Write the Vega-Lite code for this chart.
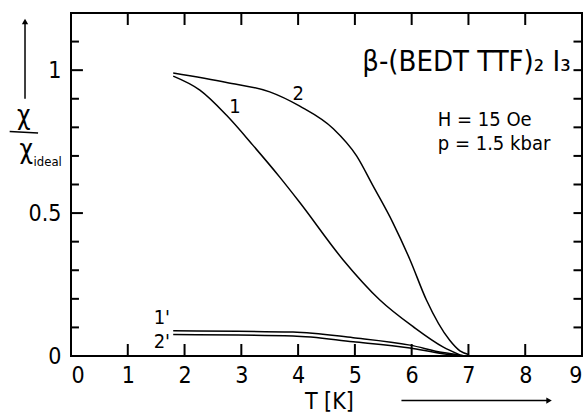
{
  "$schema": "https://vega.github.io/schema/vega-lite/v6.json",
  "autosize": "none",
  "width": 511,
  "height": 343,
  "padding": {"left": 71, "top": 13, "right": 2, "bottom": 57},
  "background": "white",
  "config": {
    "view": {"stroke": "black", "strokeWidth": 2},
    "font": "DejaVu Sans Condensed",
    "text": {"font": "DejaVu Sans Condensed"},
    "axis": {"grid": false, "ticks": false, "domain": false, "labelColor": "black", "labelFont": "DejaVu Sans Condensed", "titleFont": "DejaVu Sans Condensed"}
  },
  "datasets": {
    "curves": [
      {"s": "1", "T": 1.8, "r": 0.979},
      {"s": "1", "T": 2.27, "r": 0.93},
      {"s": "1", "T": 2.74, "r": 0.842},
      {"s": "1", "T": 3.21, "r": 0.736},
      {"s": "1", "T": 3.68, "r": 0.625},
      {"s": "1", "T": 4.03, "r": 0.537},
      {"s": "1", "T": 4.79, "r": 0.337},
      {"s": "1", "T": 5.44, "r": 0.196},
      {"s": "1", "T": 6.03, "r": 0.102},
      {"s": "1", "T": 6.55, "r": 0.032},
      {"s": "1", "T": 6.85, "r": 0.004},
      {"s": "2", "T": 1.8, "r": 0.99},
      {"s": "2", "T": 2.74, "r": 0.957},
      {"s": "2", "T": 3.5, "r": 0.924},
      {"s": "2", "T": 4.03, "r": 0.874},
      {"s": "2", "T": 4.62, "r": 0.795},
      {"s": "2", "T": 5.03, "r": 0.7},
      {"s": "2", "T": 5.32, "r": 0.595},
      {"s": "2", "T": 5.67, "r": 0.466},
      {"s": "2", "T": 5.97, "r": 0.337},
      {"s": "2", "T": 6.26, "r": 0.196},
      {"s": "2", "T": 6.67, "r": 0.055},
      {"s": "2", "T": 6.85, "r": 0.018},
      {"s": "2", "T": 7.0, "r": 0.005},
      {"s": "1p", "T": 1.8, "r": 0.088},
      {"s": "1p", "T": 3.91, "r": 0.084},
      {"s": "1p", "T": 4.97, "r": 0.064},
      {"s": "1p", "T": 5.97, "r": 0.038},
      {"s": "1p", "T": 6.55, "r": 0.012},
      {"s": "1p", "T": 6.9, "r": 0.002},
      {"s": "2p", "T": 1.8, "r": 0.075},
      {"s": "2p", "T": 3.91, "r": 0.07},
      {"s": "2p", "T": 4.97, "r": 0.05},
      {"s": "2p", "T": 5.97, "r": 0.028},
      {"s": "2p", "T": 6.55, "r": 0.008},
      {"s": "2p", "T": 6.9, "r": 0.001}
    ],
    "vticks": [
      {"x": 1, "y": 0.021, "len": 12}, {"x": 2, "y": 0.021, "len": 12}, {"x": 3, "y": 0.021, "len": 12},
      {"x": 4, "y": 0.021, "len": 12}, {"x": 5, "y": 0.021, "len": 12}, {"x": 6, "y": 0.021, "len": 12},
      {"x": 7, "y": 0.021, "len": 12}, {"x": 8, "y": 0.021, "len": 12},
      {"x": 1, "y": 1.179, "len": 12}, {"x": 2, "y": 1.179, "len": 12}, {"x": 3, "y": 1.179, "len": 12},
      {"x": 4, "y": 1.179, "len": 12}, {"x": 5, "y": 1.179, "len": 12}, {"x": 6, "y": 1.179, "len": 12},
      {"x": 7, "y": 1.179, "len": 12}, {"x": 8, "y": 1.179, "len": 12}
    ],
    "hticks": [
      {"id": "l1", "x": 0, "y": 0.1}, {"id": "l1", "x": 0.14, "y": 0.1},
      {"id": "l2", "x": 0, "y": 0.2}, {"id": "l2", "x": 0.14, "y": 0.2},
      {"id": "l3", "x": 0, "y": 0.3}, {"id": "l3", "x": 0.14, "y": 0.3},
      {"id": "l4", "x": 0, "y": 0.4}, {"id": "l4", "x": 0.14, "y": 0.4},
      {"id": "l5", "x": 0, "y": 0.5}, {"id": "l5", "x": 0.21, "y": 0.5},
      {"id": "l6", "x": 0, "y": 0.6}, {"id": "l6", "x": 0.14, "y": 0.6},
      {"id": "l7", "x": 0, "y": 0.7}, {"id": "l7", "x": 0.14, "y": 0.7},
      {"id": "l8", "x": 0, "y": 0.8}, {"id": "l8", "x": 0.14, "y": 0.8},
      {"id": "l9", "x": 0, "y": 0.9}, {"id": "l9", "x": 0.14, "y": 0.9},
      {"id": "l10", "x": 0, "y": 1.0}, {"id": "l10", "x": 0.21, "y": 1.0},
      {"id": "l11", "x": 0, "y": 1.1}, {"id": "l11", "x": 0.14, "y": 1.1},
      {"id": "r1", "x": 9, "y": 0.1}, {"id": "r1", "x": 8.85, "y": 0.1},
      {"id": "r2", "x": 9, "y": 0.2}, {"id": "r2", "x": 8.85, "y": 0.2},
      {"id": "r3", "x": 9, "y": 0.3}, {"id": "r3", "x": 8.85, "y": 0.3},
      {"id": "r4", "x": 9, "y": 0.4}, {"id": "r4", "x": 8.85, "y": 0.4},
      {"id": "r5", "x": 9, "y": 0.5}, {"id": "r5", "x": 8.85, "y": 0.5},
      {"id": "r6", "x": 9, "y": 0.6}, {"id": "r6", "x": 8.85, "y": 0.6},
      {"id": "r7", "x": 9, "y": 0.7}, {"id": "r7", "x": 8.85, "y": 0.7},
      {"id": "r8", "x": 9, "y": 0.8}, {"id": "r8", "x": 8.85, "y": 0.8},
      {"id": "r9", "x": 9, "y": 0.9}, {"id": "r9", "x": 8.85, "y": 0.9},
      {"id": "r10", "x": 9, "y": 1.0}, {"id": "r10", "x": 8.85, "y": 1.0},
      {"id": "r11", "x": 9, "y": 1.1}, {"id": "r11", "x": 8.85, "y": 1.1}
    ],
    "labelsC": [
      {"T": 2.89, "r": 0.872, "t": "1", "size": 20},
      {"T": 4.0, "r": 0.918, "t": "2", "size": 20},
      {"T": 1.6, "r": 0.133, "t": "1'", "size": 20},
      {"T": 1.6, "r": 0.05, "t": "2'", "size": 20},
      {"T": -0.83, "r": 0.84, "t": "χ", "size": 26},
      {"T": -0.79, "r": 0.72, "t": "χ", "size": 26},
      {"T": 4.55, "r": -0.16, "t": "T [K]", "size": 23}
    ],
    "labelsL": [
      {"T": 6.46, "r": 0.826, "t": "H = 15 Oe", "size": 20},
      {"T": 6.46, "r": 0.742, "t": "p = 1.5 kbar", "size": 20},
      {"T": -0.66, "r": 0.68, "t": "ideal", "size": 13}
    ],
    "labelsR": [
      {"T": 8.8, "r": 1.03, "t": "β-(BEDT TTF)₂ I₃", "size": 29}
    ],
    "rules": [
      {"x1": -1.08, "x2": -0.58, "y1": 0.785, "y2": 0.78},
      {"x1": -0.81, "x2": -0.81, "y1": 0.9, "y2": 1.17},
      {"x1": 5.82, "x2": 8.4, "y1": -0.156, "y2": -0.156}
    ],
    "heads": [
      {"x": -0.81, "y": 1.17, "shape": "triangle-up"},
      {"x": 8.42, "y": -0.156, "shape": "triangle-right"}
    ]
  },
  "layer": [
    {
      "data": {"name": "curves"},
      "mark": {"type": "line", "color": "black", "strokeWidth": 1.5, "interpolate": "monotone"},
      "encoding": {
        "x": {"field": "T", "type": "quantitative", "scale": {"domain": [0, 9], "nice": false},
          "axis": {"orient": "bottom", "values": [0,1,2,3,4,5,6,7,8,9], "format": "d", "labelPadding": 8, "labelFontSize": 23, "title": null}},
        "y": {"field": "r", "type": "quantitative", "scale": {"domain": [0, 1.2], "nice": false, "zero": false},
          "axis": {"orient": "left", "values": [0, 0.5, 1], "labelExpr": "datum.value == 0.5 ? '0.5' : format(datum.value, 'd')", "labelPadding": 10, "labelFontSize": 23, "title": null}},
        "detail": {"field": "s"}
      }
    },
    {
      "data": {"name": "vticks"},
      "mark": {"type": "tick", "orient": "vertical", "color": "black", "thickness": 2, "opacity": 1},
      "encoding": {
        "x": {"field": "x", "type": "quantitative"},
        "y": {"field": "y", "type": "quantitative"},
        "size": {"field": "len", "type": "quantitative", "scale": null}
      }
    },
    {
      "data": {"name": "hticks"},
      "mark": {"type": "line", "color": "black", "strokeWidth": 2},
      "encoding": {
        "x": {"field": "x", "type": "quantitative"},
        "y": {"field": "y", "type": "quantitative"},
        "detail": {"field": "id"}
      }
    },
    {
      "data": {"name": "labelsC"},
      "mark": {"type": "text", "color": "black", "baseline": "middle", "align": "center"},
      "encoding": {
        "x": {"field": "T", "type": "quantitative"},
        "y": {"field": "r", "type": "quantitative"},
        "text": {"field": "t"},
        "size": {"field": "size", "type": "quantitative", "scale": null}
      }
    },
    {
      "data": {"name": "labelsL"},
      "mark": {"type": "text", "color": "black", "baseline": "middle", "align": "left"},
      "encoding": {
        "x": {"field": "T", "type": "quantitative"},
        "y": {"field": "r", "type": "quantitative"},
        "text": {"field": "t"},
        "size": {"field": "size", "type": "quantitative", "scale": null}
      }
    },
    {
      "data": {"name": "labelsR"},
      "mark": {"type": "text", "color": "black", "baseline": "middle", "align": "right"},
      "encoding": {
        "x": {"field": "T", "type": "quantitative"},
        "y": {"field": "r", "type": "quantitative"},
        "text": {"field": "t"},
        "size": {"field": "size", "type": "quantitative", "scale": null}
      }
    },
    {
      "data": {"name": "rules"},
      "mark": {"type": "rule", "color": "black", "strokeWidth": 1.5},
      "encoding": {
        "x": {"field": "x1", "type": "quantitative"},
        "x2": {"field": "x2"},
        "y": {"field": "y1", "type": "quantitative"},
        "y2": {"field": "y2"}
      }
    },
    {
      "data": {"name": "heads"},
      "mark": {"type": "point", "filled": true, "color": "black", "opacity": 1, "size": 40},
      "encoding": {
        "x": {"field": "x", "type": "quantitative"},
        "y": {"field": "y", "type": "quantitative"},
        "shape": {"field": "shape", "type": "nominal", "scale": null}
      }
    }
  ]
}
